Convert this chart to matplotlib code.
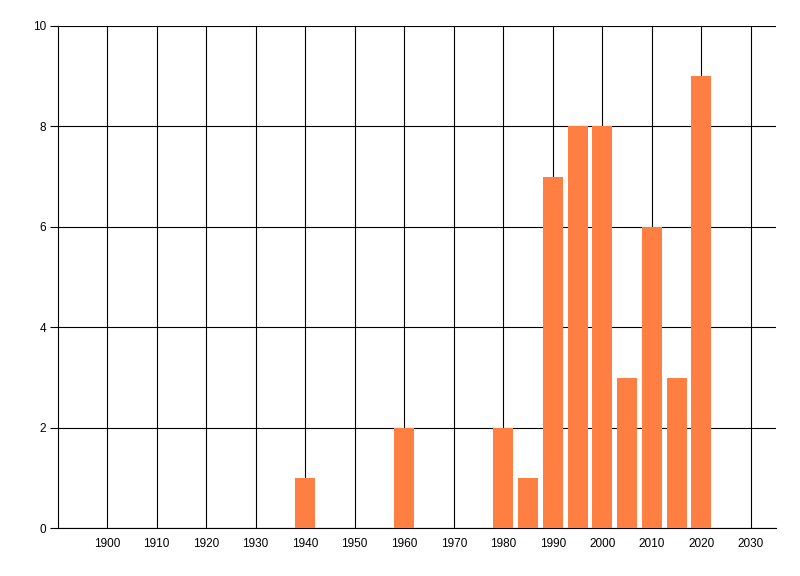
import matplotlib.pyplot as plt

# values
years = [1940, 1960, 1980, 1985, 1990, 1995, 2000, 2005, 2010, 2015, 2020]
counts = [1, 2, 2, 1, 7, 8, 8, 3, 6, 3, 9]
x_ticks = list(range(1900, 2031, 10))
y_ticks = [0, 2, 4, 6, 8, 10]

plt.rcParams['font.family'] = ['Liberation Sans', 'DejaVu Sans']

fig = plt.figure(figsize=(8, 5.76), dpi=100)
ax = fig.add_axes([0.0719, 0.0828, 0.8977, 0.8721])

ax.bar(years, counts, width=4.05, color='#FF7F42', zorder=3)

ax.set_xlim(1890, 2035)
ax.set_ylim(0, 10)
ax.set_xticks(x_ticks)
ax.set_yticks(y_ticks)

# black grid, like the chart control
ax.grid(True, color='black', linewidth=0.8, zorder=1)
ax.set_axisbelow(True)

for s in ['top', 'right']:
    ax.spines[s].set_visible(False)
for s in ['left', 'bottom']:
    ax.spines[s].set_linewidth(0.8)
    ax.spines[s].set_color('black')

ax.tick_params(axis='y', length=6, width=0.8, pad=2, labelsize=8.5)
ax.tick_params(axis='x', length=0, pad=7, labelsize=8.5)

fig.savefig('out.png', dpi=100)
